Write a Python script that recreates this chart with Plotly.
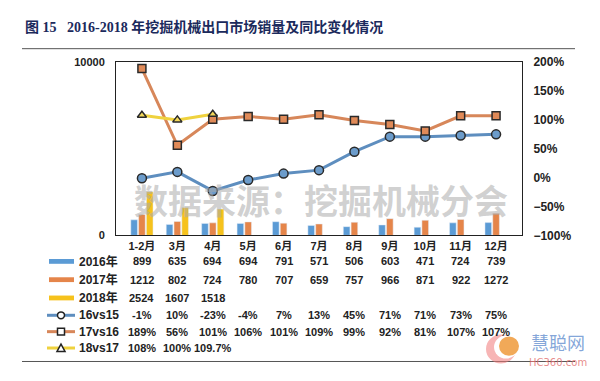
import plotly.graph_objects as go

categories = ["1-2月", "3月", "4月", "5月", "6月", "7月", "8月", "9月", "10月", "11月", "12月"]
sales_2016 = [899, 635, 694, 694, 791, 571, 506, 603, 471, 724, 739]
sales_2017 = [1212, 802, 724, 780, 707, 659, 757, 966, 871, 922, 1272]
sales_2018 = [2524, 1607, 1518]
yoy_16vs15 = [-1, 10, -23, -4, 7, 13, 45, 71, 71, 73, 75]
yoy_17vs16 = [189, 56, 101, 106, 101, 109, 99, 92, 81, 107, 107]
yoy_18vs17 = [108, 100, 109.7]
yoy_18_labels = ["108%", "100%", "109.7%"]

# page body has an 8px default margin: size the figure so it fits the 600x381 window
OFF = 8
W, H = 600 - OFF, 381 - OFF
def px(x):
    return (x - OFF) / W
def py(y):
    return 1 - (y - OFF) / H

C16, C17, C18 = "#5B9BD5", "#E5854A", "#F6C21C"
L16, L17, L18 = "#5E8EBF", "#D7875A", "#EFD23E"
NUMFONT = "Liberation Sans, Arial, Noto Sans CJK SC"

fig = go.Figure()
fig.add_trace(go.Bar(x=categories, y=sales_2016, marker_color=C16, name="2016年"))
fig.add_trace(go.Bar(x=categories, y=sales_2017, marker_color=C17, name="2017年"))
fig.add_trace(go.Bar(x=categories[:len(sales_2018)], y=sales_2018, marker_color=C18, name="2018年"))

fig.add_trace(go.Scatter(x=categories, y=[v / 100 for v in yoy_16vs15], yaxis="y2",
                         mode="lines+markers", line=dict(color=L16, width=3),
                         marker=dict(symbol="circle", size=9, color="#6C9CCB",
                                     line=dict(color="#2a2a2a", width=1.5)), name="16vs15"))
fig.add_trace(go.Scatter(x=categories, y=[v / 100 for v in yoy_17vs16], yaxis="y2",
                         mode="lines+markers", line=dict(color=L17, width=3),
                         marker=dict(symbol="square", size=8, color="#E08A58",
                                     line=dict(color="#2a2a2a", width=1.5)), name="17vs16"))
fig.add_trace(go.Scatter(x=categories[:len(yoy_18vs17)], y=[v / 100 for v in yoy_18vs17], yaxis="y2",
                         mode="lines+markers", line=dict(color=L18, width=3),
                         marker=dict(symbol="triangle-up", size=8, color="#F3D85A",
                                     line=dict(color="#2a2a2a", width=1.5)), name="18vs17"))

fig.update_layout(
    width=W, height=H,
    margin=dict(l=0, r=0, t=0, b=0),
    paper_bgcolor="white", plot_bgcolor="white",
    showlegend=False,
    barmode="group", bargap=0.34, bargroupgap=0.15,
    xaxis=dict(domain=[px(116), px(522)], type="category", showline=True, mirror=True,
               linecolor="#222", linewidth=1, ticks="", showgrid=False,
               tickfont=dict(family="Liberation Sans, Noto Sans CJK SC", size=11, color="#222", weight="bold")),
    yaxis=dict(domain=[py(237), py(57)], range=[0, 10000], tickvals=[0, 10000],
               ticktext=["0", "10000"], showline=True, linecolor="#222", linewidth=1,
               showgrid=False, zeroline=False, ticks="", ticklabelstandoff=8,
               tickfont=dict(family=NUMFONT, size=11, color="#222", weight="bold")),
    yaxis2=dict(overlaying="y", side="right", range=[-1, 2], dtick=0.5, tickformat=".0%",
                showline=True, linecolor="#222", linewidth=1, showgrid=False, zeroline=False,
                ticks="", ticklabelstandoff=8,
                tickfont=dict(family=NUMFONT, size=12, color="#222", weight="bold")),
    font=dict(family=NUMFONT),
)

annotations = []
shapes = []

# Title and rules
annotations.append(dict(xref="paper", yref="paper", x=px(23), y=py(20), xanchor="left", yanchor="middle",
                        text="图 15&nbsp;&nbsp;&nbsp;2016-2018 年挖掘机械出口市场销量及同比变化情况", showarrow=False,
                        font=dict(family="Liberation Serif, Noto Sans CJK SC", size=14, color="#1B2A5C", weight="bold")))
shapes.append(dict(type="line", xref="paper", yref="paper", x0=px(22), x1=px(575), y0=py(43), y1=py(43),
                   line=dict(color="#555", width=1)))
shapes.append(dict(type="line", xref="paper", yref="paper", x0=px(22), x1=px(575), y0=py(368), y1=py(368),
                   line=dict(color="#555", width=1)))

# Watermark
annotations.append(dict(xref="paper", yref="paper", x=px(321), y=py(200), xanchor="center", yanchor="middle",
                        text="数据来源：挖掘机械分会", showarrow=False,
                        font=dict(family="Noto Sans CJK SC", size=34, color="rgba(170,170,170,0.55)", weight="bold")))

# Data table
row_y = [264, 283, 302, 320, 337, 354]
rows = [
    ("2016年", [str(v) for v in sales_2016]),
    ("2017年", [str(v) for v in sales_2017]),
    ("2018年", [str(v) for v in sales_2018]),
    ("16vs15", [f"{v}%" for v in yoy_16vs15]),
    ("17vs16", [f"{v}%" for v in yoy_17vs16]),
    ("18vs17", yoy_18_labels),
]
for (label, vals), yy in zip(rows, row_y):
    annotations.append(dict(xref="paper", yref="paper", x=px(77), y=py(yy), xanchor="left", yanchor="middle",
                            text=label, showarrow=False,
                            font=dict(family=NUMFONT, size=12, color="#222", weight="bold")))
    for cat, t in zip(categories, vals):
        annotations.append(dict(xref="x", yref="paper", x=cat, y=py(yy), xanchor="center", yanchor="middle",
                                text=t, showarrow=False,
                                font=dict(family=NUMFONT, size=11, color="#222", weight="bold")))

# Legend swatches for bars
for col, yy in zip([C16, C17, C18], row_y[:3]):
    shapes.append(dict(type="rect", xref="paper", yref="paper", x0=px(49), x1=px(74),
                       y0=py(yy + 2.5), y1=py(yy - 2.5), line=dict(width=0), fillcolor=col))
# Legend swatches for lines
mx = 61
for col, yy in zip([L16, L17, L18], row_y[3:]):
    shapes.append(dict(type="line", xref="paper", yref="paper", x0=px(47), x1=px(75),
                       y0=py(yy), y1=py(yy), line=dict(color=col, width=3)))
shapes.append(dict(type="circle", xref="paper", yref="paper", x0=px(mx - 3.5), x1=px(mx + 3.5),
                   y0=py(row_y[3] + 3.5), y1=py(row_y[3] - 3.5), fillcolor="white",
                   line=dict(color="#222", width=1.5)))
shapes.append(dict(type="rect", xref="paper", yref="paper", x0=px(mx - 3.5), x1=px(mx + 3.5),
                   y0=py(row_y[4] + 3.5), y1=py(row_y[4] - 3.5), fillcolor="white",
                   line=dict(color="#222", width=1.5)))
ty = row_y[5]
shapes.append(dict(type="path", xref="paper", yref="paper",
                   path=f"M {px(mx-4)},{py(ty+3.5)} L {px(mx+4)},{py(ty+3.5)} L {px(mx)},{py(ty-4)} Z",
                   fillcolor="white", line=dict(color="#222", width=1.5)))

# Site watermark logo
shapes.append(dict(type="circle", xref="paper", yref="paper", x0=px(486), x1=px(516), y0=py(370), y1=py(340),
                   fillcolor="rgba(240,120,120,0.55)", line=dict(width=0)))
shapes.append(dict(type="circle", xref="paper", yref="paper", x0=px(494), x1=px(518), y0=py(365), y1=py(341),
                   fillcolor="white", line=dict(width=0)))
shapes.append(dict(type="circle", xref="paper", yref="paper", x0=px(499), x1=px(519), y0=py(362), y1=py(342),
                   fillcolor="rgba(240,160,70,0.9)", line=dict(width=0)))
annotations.append(dict(xref="paper", yref="paper", x=px(558), y=py(348), xanchor="center", yanchor="middle",
                        text="慧聪网", showarrow=False,
                        font=dict(family="Noto Sans CJK SC", size=18, color="rgba(110,150,210,0.85)")))
annotations.append(dict(xref="paper", yref="paper", x=px(558), y=py(369), xanchor="center", yanchor="middle",
                        text="HC360.com", showarrow=False,
                        font=dict(family="DejaVu Sans", size=10, color="rgba(225,110,110,0.8)")))

fig.update_layout(annotations=annotations, shapes=shapes)
fig.write_html("out.html")
